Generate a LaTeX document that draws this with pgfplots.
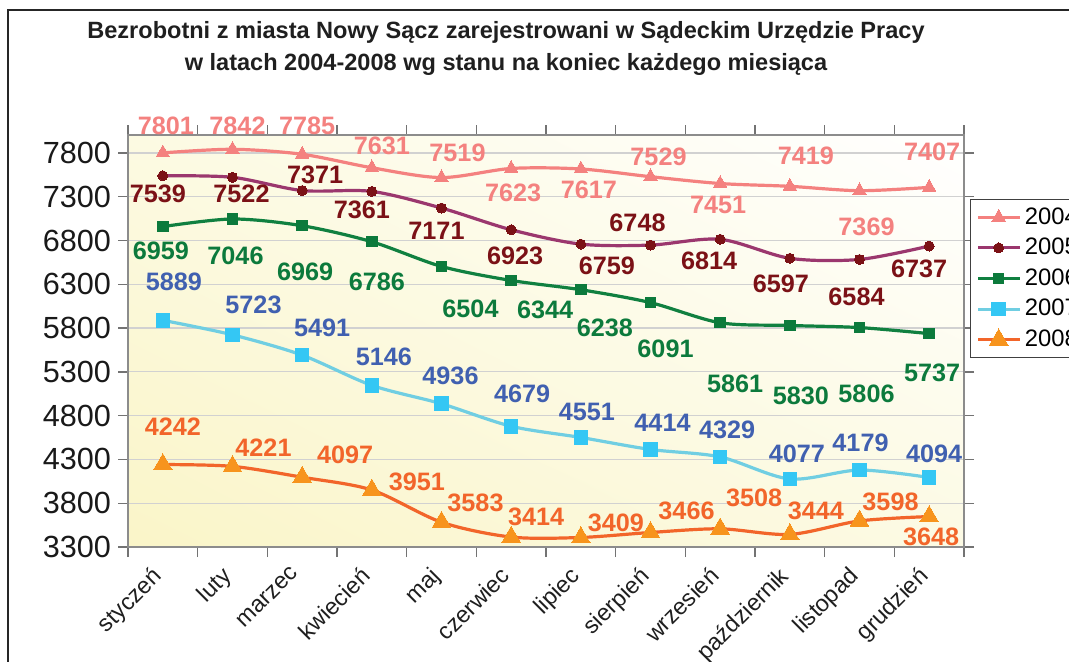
\documentclass[border=0pt]{standalone}
\usepackage{fontspec}
\setmainfont{Liberation Sans}
\usepackage{pgfplots}
\pgfplotsset{compat=1.18}
\usepackage{pgfplotstable}
\usetikzlibrary{shadings}

\definecolor{c04}{RGB}{244,129,127}
\definecolor{c05}{RGB}{155,55,110}
\definecolor{c05m}{RGB}{123,17,22}
\definecolor{c06}{RGB}{16,128,64}
\definecolor{c06m}{RGB}{12,122,60}
\definecolor{c07}{RGB}{112,206,226}
\definecolor{c07m}{RGB}{52,199,244}
\definecolor{c07l}{RGB}{64,96,176}
\definecolor{c08}{RGB}{242,101,42}
\definecolor{c08m}{RGB}{247,148,29}
\definecolor{bgLL}{RGB}{250,245,200}
\definecolor{bgLR}{RGB}{252,250,228}
\definecolor{bgUL}{RGB}{252,250,226}
\definecolor{bgUR}{RGB}{255,255,255}

\pgfplotstableread{
x y dx dy
0 7801 3 27
1 7842 5 23
2 7785 5 28
3 7631 10 22
4 7519 16 25
5 7623 2 -24
6 7617 8 -21
7 7529 8 20
8 7451 -2 -21
9 7419 16 30
10 7369 7 -36
11 7407 3 36
}\tA
\pgfplotstableread{
x y dx dy
0 7539 -5 -18
1 7522 9 -17
2 7371 13 16
3 7361 -10 -18
4 7171 -5 -23
5 6923 4 -26
6 6759 26 -22
7 6748 -13 22
8 6814 -11 -22
9 6597 -9 -26
10 6584 -3 -37
11 6737 -10 -23
}\tB
\pgfplotstableread{
x y dx dy
0 6959 -2 -24
1 7046 3 -37
2 6969 3 -46
3 6786 5 -40
4 6504 29 -42
5 6344 34 -29
6 6238 24 -38
7 6091 15 -46
8 5861 15 -61
9 5830 11 -70
10 5806 7 -66
11 5737 3 -39
}\tC
\pgfplotstableread{
x y dx dy
0 5889 11 38
1 5723 21 30
2 5491 20 27
3 5146 12 29
4 4936 9 28
5 4679 11 32
6 4551 6 26
7 4414 12 27
8 4329 7 27
9 4077 7 25
10 4179 1 27
11 4094 5 24
}\tD
\pgfplotstableread{
x y dx dy
0 4242 10 38
1 4221 31 19
2 4097 43 22
3 3951 45 8
4 3583 34 19
5 3414 25 20
6 3409 35 15
7 3466 36 22
8 3508 34 31
9 3444 26 24
10 3598 31 19
11 3648 2 -20
}\tE

\pgfplotsset{
  lab/.style={
    nodes near coords,
    point meta=explicit symbolic,
    visualization depends on={\thisrow{dx}\as\dx},
    visualization depends on={\thisrow{dy}\as\dy},
    every node near coord/.style={anchor=center, inner sep=0pt,
      font=\bfseries\fontsize{12.6}{13}\selectfont, text=#1,
      xshift=\dx*0.5pt, yshift=\dy*0.5pt}
  }
}

\begin{document}
\begin{tikzpicture}
\draw[black!85, line width=0.8pt] (4pt,-340pt) -- (4pt,-5pt) -- (545pt,-5pt);
\node[align=center, font=\bfseries\fontsize{11.77}{16}\selectfont, text=black!88]
  at (253pt,-24pt) {Bezrobotni z miasta Nowy Sącz zarejestrowani w Sądeckim Urzędzie Pracy\\w latach 2004-2008 wg stanu na koniec każdego miesiąca};
\begin{axis}[
  at={(64pt,-273.5pt)}, anchor=south west,
  scale only axis, width=418pt, height=206pt,
  xmin=-0.5, xmax=11.5, ymin=3300, ymax=8005,
  ytick={3300,3800,...,7800},
  xtick={-0.5,0.5,...,11.5}, xticklabels={},
  extra x ticks={0,...,11},
  extra x tick labels={styczeń,luty,marzec,kwiecień,maj,czerwiec,lipiec,sierpień,wrzesień,październik,listopad,grudzień},
  extra x tick style={major tick length=0pt,
     tick label style={rotate=45, anchor=north east, inner sep=0pt,
       xshift=-10.6pt, yshift=-2.1pt,
       font=\fontsize{11.7}{12}\selectfont, text=black!88}},
  tick align=outside, major tick length=5pt,
  ymajorgrids, grid style={draw=black!18, line width=0.6pt},
  axis line style={draw=black!45, line width=0.7pt},
  tick style={draw=black!55, line width=0.7pt},
  yticklabel style={font=\fontsize{15.3}{16}\selectfont, text=black!90},
  /pgf/number format/assume math mode=true,
  /pgf/number format/1000 sep={},
  clip=false,
  axis background/.style={shade, lower left=bgLL, lower right=bgLR, upper left=bgUL, upper right=bgUR},
  legend style={at={(1,0.845)}, anchor=north west, xshift=3pt, draw=black!75,
     line width=0.6pt, font=\fontsize{11.9}{12}\selectfont, row sep=1.5pt,
     inner xsep=3pt, cells={anchor=west}},
  legend image code/.code={\draw[mark repeat=2,mark phase=2,#1] plot coordinates {(0pt,0pt) (10.25pt,0pt) (20.5pt,0pt)};},
  every axis plot/.append style={line width=1.6pt, smooth},
]
\addplot[c04, mark=triangle*, mark size=3.9pt, mark options={fill=c04, draw=c04, line width=0pt}, lab=c04]
  table[x=x, y=y, meta=y] {\tA};
\addlegendentry{2004}
\addplot[c05, mark=*, mark size=2.5pt, mark options={fill=c05m, draw=c05m, line width=0pt}, lab=c05m]
  table[x=x, y=y, meta=y] {\tB};
\addlegendentry{2005}
\addplot[c06, mark=square*, mark size=2.6pt, mark options={fill=c06m, draw=c06m, line width=0pt}, lab=c06m]
  table[x=x, y=y, meta=y] {\tC};
\addlegendentry{2006}
\addplot[c07, mark=square*, mark size=3.4pt, mark options={fill=c07m, draw=c07m, line width=0pt}, lab=c07l]
  table[x=x, y=y, meta=y] {\tD};
\addlegendentry{2007}
\addplot[c08, mark=triangle*, mark size=5.4pt, mark options={fill=c08m, draw=c08m, line width=0pt}, lab=c08]
  table[x=x, y=y, meta=y] {\tE};
\addlegendentry{2008}
\end{axis}
\pgfresetboundingbox
\path[use as bounding box] (0pt,0pt) rectangle (534.5pt,-330.5pt);
\end{tikzpicture}
\end{document}
